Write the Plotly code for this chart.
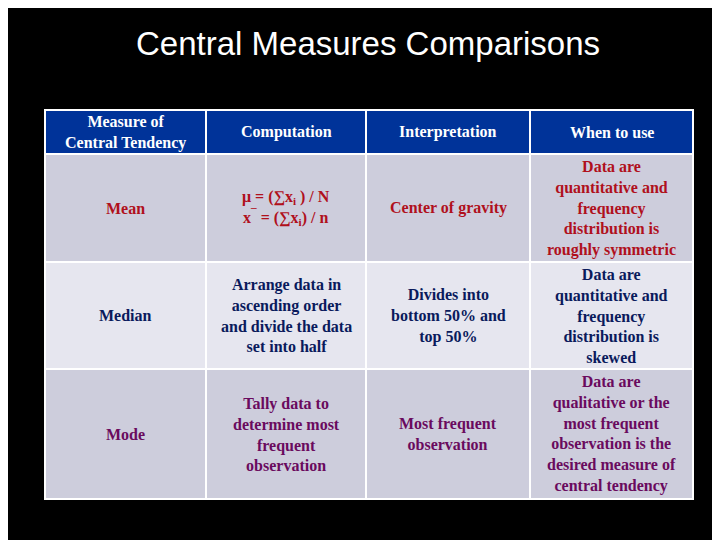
import plotly.graph_objects as go

headers = ["Measure of<br>Central Tendency", "Computation", "Interpretation", "When to use"]
measures = ["Mean", "Median", "Mode"]
computation = ["μ = (∑x<sub>i</sub> ) / N<br>x<sup>¯</sup> = (∑x<sub>i</sub>) / n",
               "Arrange data in<br>ascending order<br>and divide the data<br>set into half",
               "Tally data to<br>determine most<br>frequent<br>observation"]
interpretation = ["Center of gravity", "Divides into<br>bottom 50% and<br>top 50%", "Most frequent<br>observation"]
when_to_use = ["Data are<br>quantitative and<br>frequency<br>distribution is<br>roughly symmetric",
               "Data are<br>quantitative and<br>frequency<br>distribution is<br>skewed",
               "Data are<br>qualitative or the<br>most frequent<br>observation is the<br>desired measure of<br>central tendency"]

row_fill = ["#cdcddc", "#e6e6ef", "#cdcddc"]
row_font = ["#b0101c", "#0a1a5c", "#6a0a5e"]

# layout geometry (pixels)
col_edges = [37, 198, 358, 522, 685]
row_edges = [102, 146, 254, 361, 491]

columns = [measures, computation, interpretation, when_to_use]
shapes, annots = [], []
FONT = "Liberation Serif"

def cell(x0, x1, y0, y1, fill, text, color, size):
    shapes.append(dict(type="rect", x0=x0, x1=x1, y0=y0, y1=y1, xref="x", yref="y",
                       fillcolor=fill, line=dict(color="white", width=2), layer="below"))
    annots.append(dict(x=(x0 + x1) / 2, y=(y0 + y1) / 2, xref="x", yref="y", text="<b>" + text + "</b>",
                       showarrow=False, align="center", xanchor="center", yanchor="middle",
                       font=dict(family=FONT, size=size, color=color)))

for c, h in enumerate(headers):
    cell(col_edges[c], col_edges[c + 1], row_edges[0], row_edges[1], "#003399", h, "white", 16)
for r in range(3):
    for c in range(4):
        cell(col_edges[c], col_edges[c + 1], row_edges[r + 1], row_edges[r + 2],
             row_fill[r], columns[c][r], row_font[r], 16)

annots.append(dict(x=360, y=35, xref="x", yref="y", text="Central Measures Comparisons", showarrow=False,
                   font=dict(family="Liberation Sans", size=33, color="white")))

fig = go.Figure()
fig.update_layout(
    width=720, height=540, paper_bgcolor="black", plot_bgcolor="black",
    margin=dict(l=0, r=0, t=0, b=0), shapes=shapes, annotations=annots,
    xaxis=dict(range=[0, 720], visible=False, fixedrange=True),
    yaxis=dict(range=[540, 0], visible=False, fixedrange=True),
)
fig.write_html("out.html")
